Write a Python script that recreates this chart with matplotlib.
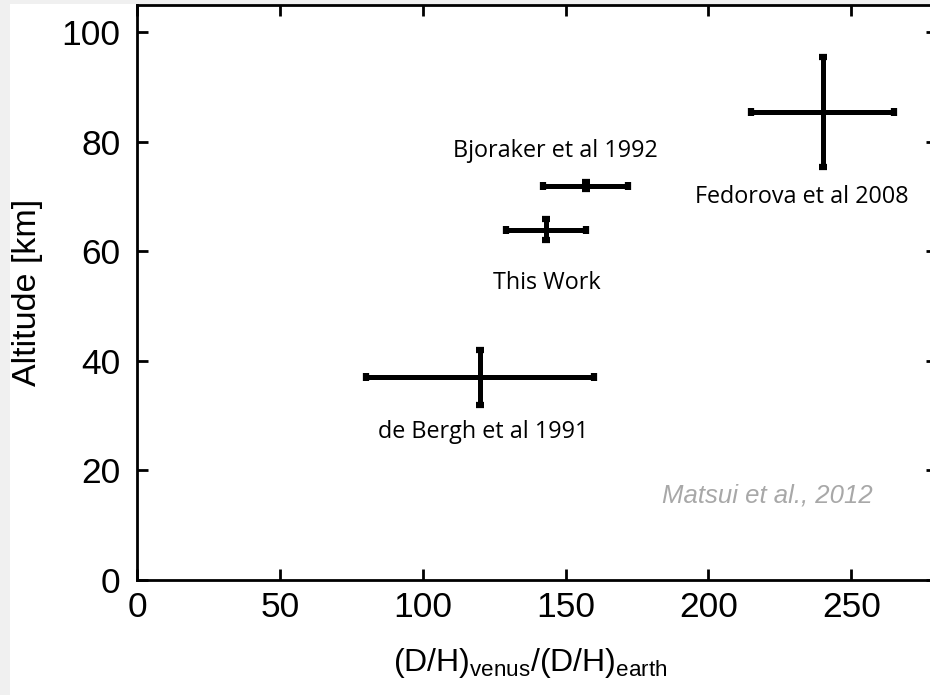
""" D/H ratio on Venus vs altitude (after Matsui et al., 2012) """

import matplotlib.pyplot as plt
from matplotlib.patches import Rectangle

# Data
labels = ['Fedorova et al 2008', 'Bjoraker et al 1992', 'This Work', 'de Bergh et al 1991']
dh_ratio = [240, 157, 143, 120]
dh_err = [25, 15, 14, 40]
altitude = [85.5, 72, 64, 37]
alt_err = [10, 0.6, 2, 5]

# where the labels sit (data units)
label_x = [232.8, 146.3, 143.5, 121]
label_y = [70, 78.4, 54.3, 27]

plt.rcParams['font.family'] = ['Liberation Sans', 'DejaVu Sans']
plt.rcParams['mathtext.fontset'] = 'custom'
plt.rcParams['mathtext.rm'] = 'Liberation Sans'

fig = plt.figure(figsize=(9.3, 6.95), dpi=100, facecolor='#f0f0f0')
# white canvas, leaving the thin grey frame on the left and top
fig.patches.append(Rectangle((10 / 930, 0), 1, 691 / 695, transform=fig.transFigure,
                             facecolor='white', edgecolor='none', zorder=-10))

ax = fig.add_axes([137 / 930, 115 / 695, 800 / 930, 575 / 695])
ax.set_zorder(5)

ax.errorbar(dh_ratio, altitude, xerr=dh_err, yerr=alt_err, fmt='none',
            ecolor='black', elinewidth=3.6, capsize=2.6, capthick=4.5)

# annotations
for name, lx, ly in zip(labels, label_x, label_y):
    ax.text(lx, ly, name, family=['Open Sans', 'DejaVu Sans'], fontsize=16.8,
            ha='center', va='center')
ax.text(220.5, 15.4, 'Matsui et al., 2012', color='#a8a8a8', style='italic',
        fontsize=18.5, ha='center', va='center')

ax.set_xlim(0, 280)
ax.set_ylim(0, 105)
ax.set_xticks([0, 50, 100, 150, 200, 250])
ax.set_yticks([0, 20, 40, 60, 80, 100])
ax.tick_params(direction='in', length=8, width=2, labelsize=25.5,
               top=True, right=True)
ax.tick_params(axis='x', pad=8)
ax.tick_params(axis='y', pad=12)
for spine in ax.spines.values():
    spine.set_linewidth(2)

ax.set_xlabel(r'$\mathregular{(D/H)_{venus}/(D/H)_{earth}}$', fontsize=23)
ax.xaxis.set_label_coords((530 - 137) / 800, -66 / 575)
ax.set_ylabel('Altitude [km]', fontsize=24.5)
ax.yaxis.set_label_coords(-94 / 800, 0.5)

fig.savefig('out.png', dpi=100, facecolor=fig.get_facecolor())
